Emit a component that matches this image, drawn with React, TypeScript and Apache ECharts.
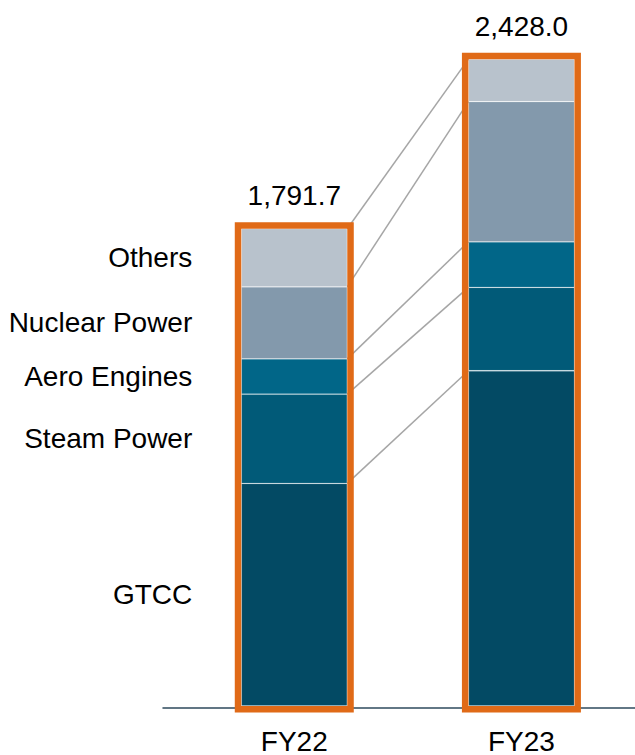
import React, { useEffect, useRef } from "react";
import * as echarts from "echarts";

const categories = ["FY22", "FY23"];
const segmentNames = ["GTCC", "Steam Power", "Aero Engines", "Nuclear Power", "Others"];
const gtcc = [835.5, 1258.5];
const steamPower = [335.0, 313.0];
const aeroEngines = [132.5, 171.0];
const nuclearPower = [270.0, 526.0];
const others = [218.7, 159.5];
const totals = [1791.7, 2428.0];
const totalLabels = ["1,791.7", "2,428.0"];

const segmentValues = [gtcc, steamPower, aeroEngines, nuclearPower, others];
const segmentColors = ["#034a64", "#015a78", "#016688", "#8399ac", "#b8c2cc"];
const ORANGE = "#e06a17";
const BAR_W = 106;
const FRAME = 6.5;
const FONT = '"Liberation Sans", Arial, Helvetica, sans-serif';
const FS = 28;

export default function App() {
  const ref = useRef<HTMLDivElement>(null);
  useEffect(() => {
    if (!ref.current) return;
    const chart = echarts.init(ref.current, undefined, { renderer: "svg" });

    const boundaries: number[][] = [];
    const cum = [0, 0];
    segmentValues.forEach((vals) => {
      cum[0] += vals[0];
      cum[1] += vals[1];
      boundaries.push([0, cum[0], cum[1]]);
    });

    const barSeries = segmentValues.map((vals, si) => ({
      type: "bar",
      name: segmentNames[si],
      stack: "total",
      barWidth: BAR_W,
      data: vals,
      z: 2,
      itemStyle: {
        color: segmentColors[si],
        borderColor: "rgba(255,255,255,0.16)",
        borderWidth: 0.8,
      },
      label: {
        show: true,
        position: "left",
        distance: 49,
        color: "#000",
        fontSize: FS,
        fontFamily: FONT,
        formatter: (p: any) => (p.dataIndex === 0 ? segmentNames[si] : ""),
      },
    }));

    const option: any = {
      animation: false,
      grid: [
        { left: 180.7, right: -3.7, top: 40, bottom: 49 },
        { left: 163, right: 0, top: 700, bottom: 47.5 },
      ],
      xAxis: [
        {
          type: "category",
          gridIndex: 0,
          data: categories,
          axisLine: { show: false },
          axisTick: { show: false },
          axisLabel: { color: "#000", fontSize: FS, fontFamily: FONT, margin: 21 },
        },
        {
          type: "value",
          gridIndex: 1,
          min: 0,
          max: 1,
          axisLine: { show: true, lineStyle: { color: "#2e4a5c", width: 1.5 } },
          axisTick: { show: false },
          axisLabel: { show: false },
          splitLine: { show: false },
        },
      ],
      yAxis: [
        { type: "value", gridIndex: 0, min: 0, max: 2500, show: false },
        { type: "value", gridIndex: 1, min: 0, max: 1, show: false },
      ],
      series: [
        {
          type: "custom",
          name: "connectors",
          data: boundaries,
          encode: { x: 0, y: [1, 2] },
          z: 1,
          silent: true,
          renderItem: (params: any, api: any) => {
            const p1 = api.coord([0, api.value(1)]);
            const p2 = api.coord([1, api.value(2)]);
            return {
              type: "line",
              shape: { x1: p1[0] + BAR_W / 2, y1: p1[1], x2: p2[0] - BAR_W / 2, y2: p2[1] },
              style: { stroke: "#a6a6a6", lineWidth: 1.5 },
            };
          },
        },
        ...barSeries,
        {
          type: "custom",
          name: "frames",
          data: categories.map((c, i) => [i, totals[i]]),
          encode: { x: 0, y: 1 },
          z: 5,
          silent: true,
          renderItem: (params: any, api: any) => {
            const idx = api.value(0);
            const top = api.coord([idx, api.value(1)]);
            const bottom = api.coord([idx, 0]);
            const half = BAR_W / 2 + FRAME / 2;
            return {
              type: "group",
              children: [
                {
                  type: "rect",
                  shape: {
                    x: top[0] - half,
                    y: top[1] - FRAME / 2,
                    width: half * 2,
                    height: bottom[1] - top[1] + FRAME,
                  },
                  style: { fill: "none", stroke: ORANGE, lineWidth: FRAME },
                },
                {
                  type: "text",
                  x: top[0],
                  y: top[1] - 33,
                  style: {
                    text: totalLabels[params.dataIndex],
                    fill: "#000",
                    fontSize: FS,
                    fontFamily: FONT,
                    align: "center",
                    verticalAlign: "middle",
                  },
                },
              ],
            };
          },
        },
      ],
    };
    chart.setOption(option);
    return () => chart.dispose();
  }, []);
  return (
    <div
      ref={ref}
      style={{ position: "fixed", left: 0, top: 0, width: 635, height: 755, background: "#fff" }}
    />
  );
}
